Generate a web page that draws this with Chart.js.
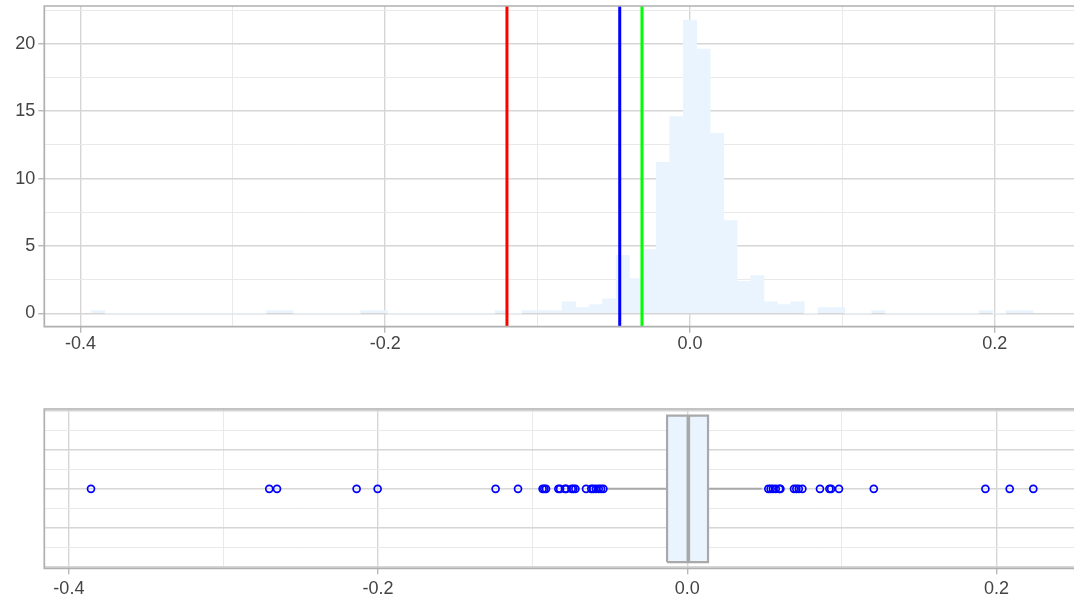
<!DOCTYPE html>
<html>
<head>
<meta charset="utf-8">
<script src="https://cdn.jsdelivr.net/npm/chart.js@4/dist/chart.umd.min.js"></script>
<style>
  html, body { margin: 0; padding: 0; background: #ffffff; overflow: hidden; }
  canvas { position: absolute; left: 0; }
  #hist { top: 0; }
  #box { top: 400px; }
</style>
</head>
<body>
<canvas id="hist" width="1074" height="360"></canvas>
<canvas id="box" width="1074" height="202"></canvas>
<script>
// ---- Histogram of returns (density per bin) ----
const binStart = -0.3927;
const binWidth = 0.008825;
const density = [
  0.215,
  0, 0, 0, 0, 0, 0, 0, 0, 0, 0, 0, 0,
  0.215, 0.215,
  0, 0, 0, 0, 0,
  0.215, 0.215,
  0, 0, 0, 0, 0, 0, 0, 0,
  0.215,
  0,
  0.215, 0.215, 0.215,
  0.86, 0.43, 0.65, 1.08, 4.3, 2.58, 4.74, 11.2, 14.6,
  21.75,
  19.6, 13.35, 6.89, 2.37, 2.8, 0.86, 0.65, 0.86, 0, 0.43, 0.43, 0, 0, 0.215,
  0, 0, 0, 0, 0, 0, 0,
  0.215, 0, 0.215, 0.215
];

// Reference levels shown as vertical rules
const levelValues = [-0.1201, -0.0461, -0.0315];
const levelColors = ['#ff0000', '#0000ff', '#00ff00'];

// Axis ranges and tick positions
const histXRange = [-0.4237, 0.2520];
const histYRange = [-0.99, 22.8];
const histXTicks = [-0.4, -0.3, -0.2, -0.1, 0, 0.1, 0.2];
const histYTicks = [0, 2.5, 5, 7.5, 10, 12.5, 15, 17.5, 20, 22.5];

// ---- Box plot summary of the same returns ----
const boxQ1 = -0.0131;
const boxMedian = 0.00065;
const boxQ3 = 0.0134;
const whiskerLow = -0.0521;
const whiskerHigh = 0.0481;
const outliers = [
  -0.3857, -0.2704, -0.2654, -0.2139, -0.2003, -0.1240, -0.1095,
  -0.0936, -0.0925, -0.0914, -0.0834, -0.0823, -0.0791, -0.0783,
  -0.0748, -0.0737, -0.0724, -0.0655, -0.0621, -0.0608, -0.0591,
  -0.0573, -0.0558, -0.0543,
  0.0524, 0.0539, 0.0554, 0.0572, 0.0595, 0.0602, 0.0690, 0.0705,
  0.0721, 0.0744, 0.0858, 0.0919, 0.0930, 0.0981, 0.1206, 0.1928,
  0.2085, 0.2238
];
const boxHalfHeight = 1.88;
const boxXRange = [-0.4159, 0.2501];
const boxYRange = [-2.04, 2.05];
const boxXTicks = [-0.4, -0.3, -0.2, -0.1, 0, 0.1, 0.2];
const boxYTicks = [-2, -1.5, -1, -0.5, 0, 0.5, 1, 1.5, 2];

// ---- Shared styling ----
const FONT = { family: "'Liberation Sans', Arial, sans-serif", size: 18 };
const TEXT = '#444444';
const FILL = '#eaf4fe';
const BOXLINE = '#a9a9a9';

const onStep = (v, step) => Math.abs(v / step - Math.round(v / step)) < 1e-6;
const tickVal = (ctx) => (ctx && ctx.tick) ? ctx.tick.value : NaN;

function gridFor(step, showTicks) {
  return {
    drawOnChartArea: true,
    drawTicks: showTicks,
    tickLength: 6,
    color: (c) => onStep(tickVal(c), step) ? '#d6d6d6' : '#e9e9e9',
    lineWidth: (c) => onStep(tickVal(c), step) ? 1.4 : 1,
    tickColor: (c) => onStep(tickVal(c), step) ? '#b8b8b8' : 'rgba(0,0,0,0)',
    offset: false
  };
}

function fixedTicks(values) {
  return (scale) => { scale.ticks = values.map((value) => ({ value })); };
}

function fixedSize(prop, size) {
  return (scale) => {
    scale[prop] = size;
    scale.paddingTop = 0; scale.paddingBottom = 0;
    scale.paddingLeft = 0; scale.paddingRight = 0;
  };
}

// Panel frame: top, left and bottom edges of the plotting area
const panelFrame = {
  id: 'panelFrame',
  afterDraw(chart) {
    const { ctx, chartArea: a } = chart;
    ctx.save();
    ctx.strokeStyle = '#b0b0b0';
    ctx.lineWidth = 1.7;
    ctx.beginPath();
    ctx.moveTo(chart.width, a.top);
    ctx.lineTo(a.left, a.top);
    ctx.lineTo(a.left, a.bottom);
    ctx.lineTo(chart.width, a.bottom);
    ctx.stroke();
    ctx.restore();
  }
};

Chart.defaults.font = FONT;
Chart.defaults.color = TEXT;
Chart.defaults.animation = false;

// ---- Histogram panel ----
const histBars = density.map((h, i) => ({ x: binStart + (i + 0.5) * binWidth, y: h }));
const levelSets = levelValues.map((v, i) => ({
  type: 'line',
  data: [{ x: v, y: histYRange[0] }, { x: v, y: histYRange[1] }],
  borderColor: levelColors[i],
  borderWidth: 3,
  pointRadius: 0,
  order: 0
}));

new Chart(document.getElementById('hist'), {
  type: 'bar',
  data: {
    datasets: [
      {
        type: 'bar',
        data: histBars,
        backgroundColor: FILL,
        borderWidth: 0,
        barPercentage: 1,
        categoryPercentage: 1,
        order: 1
      },
      ...levelSets
    ]
  },
  options: {
    responsive: false,
    layout: { autoPadding: false, padding: { top: 6, left: 0, right: 0, bottom: 0 } },
    plugins: { legend: { display: false }, tooltip: { enabled: false } },
    scales: {
      x: {
        type: 'linear',
        offset: false,
        min: histXRange[0],
        max: histXRange[1],
        afterBuildTicks: fixedTicks(histXTicks),
        afterFit: fixedSize('height', 33.3),
        grid: gridFor(0.2, true),
        border: { display: false },
        ticks: {
          padding: 1,
          maxRotation: 0,
          autoSkip: false,
          callback: (v) => onStep(v, 0.2) ? Number(v).toFixed(1) : ''
        }
      },
      y: {
        type: 'linear',
        min: histYRange[0],
        max: histYRange[1],
        afterBuildTicks: fixedTicks(histYTicks),
        afterFit: fixedSize('width', 44.3),
        grid: gridFor(5, true),
        border: { display: false },
        ticks: {
          padding: 3,
          autoSkip: false,
          callback: (v) => onStep(v, 5) ? String(v) : ''
        }
      }
    }
  },
  plugins: [panelFrame]
});

// ---- Box plot panel ----
const boxDatasets = [
  { // box body
    data: [{ x: boxQ1, y: boxHalfHeight }, { x: boxQ3, y: boxHalfHeight }],
    fill: { value: -boxHalfHeight },
    backgroundColor: FILL,
    borderWidth: 0,
    pointRadius: 0,
    order: 5
  },
  { // box outline
    data: [
      { x: boxQ1, y: -boxHalfHeight }, { x: boxQ3, y: -boxHalfHeight },
      { x: boxQ3, y: boxHalfHeight }, { x: boxQ1, y: boxHalfHeight },
      { x: boxQ1, y: -boxHalfHeight }
    ],
    borderColor: BOXLINE,
    borderWidth: 2.2,
    pointRadius: 0,
    fill: false,
    order: 4
  },
  { // median
    data: [{ x: boxMedian, y: -boxHalfHeight }, { x: boxMedian, y: boxHalfHeight }],
    borderColor: BOXLINE,
    borderWidth: 3.6,
    pointRadius: 0,
    fill: false,
    order: 3
  },
  { // lower whisker
    data: [{ x: whiskerLow, y: 0 }, { x: boxQ1, y: 0 }],
    borderColor: BOXLINE,
    borderWidth: 2,
    pointRadius: 0,
    fill: false,
    order: 3
  },
  { // upper whisker
    data: [{ x: boxQ3, y: 0 }, { x: whiskerHigh, y: 0 }],
    borderColor: BOXLINE,
    borderWidth: 2,
    pointRadius: 0,
    fill: false,
    order: 3
  },
  { // outlying observations
    data: outliers.map((v) => ({ x: v, y: 0 })),
    showLine: false,
    pointRadius: 3.5,
    pointBorderWidth: 1.7,
    pointBorderColor: '#0000ff',
    pointBackgroundColor: 'rgba(255,255,255,0)',
    fill: false,
    order: 0
  }
];

new Chart(document.getElementById('box'), {
  type: 'line',
  data: { datasets: boxDatasets },
  options: {
    responsive: false,
    layout: { autoPadding: false, padding: { top: 9, left: 0, right: 0, bottom: 0 } },
    plugins: { legend: { display: false }, tooltip: { enabled: false } },
    scales: {
      x: {
        type: 'linear',
        offset: false,
        min: boxXRange[0],
        max: boxXRange[1],
        afterBuildTicks: fixedTicks(boxXTicks),
        afterFit: fixedSize('height', 33.7),
        grid: gridFor(0.2, true),
        border: { display: false },
        ticks: {
          padding: 4,
          maxRotation: 0,
          autoSkip: false,
          callback: (v) => onStep(v, 0.2) ? Number(v).toFixed(1) : ''
        }
      },
      y: {
        type: 'linear',
        min: boxYRange[0],
        max: boxYRange[1],
        afterBuildTicks: fixedTicks(boxYTicks),
        afterFit: fixedSize('width', 44.3),
        grid: gridFor(1, false),
        border: { display: false },
        ticks: { display: false }
      }
    }
  },
  plugins: [panelFrame]
});
</script>
</body>
</html>
